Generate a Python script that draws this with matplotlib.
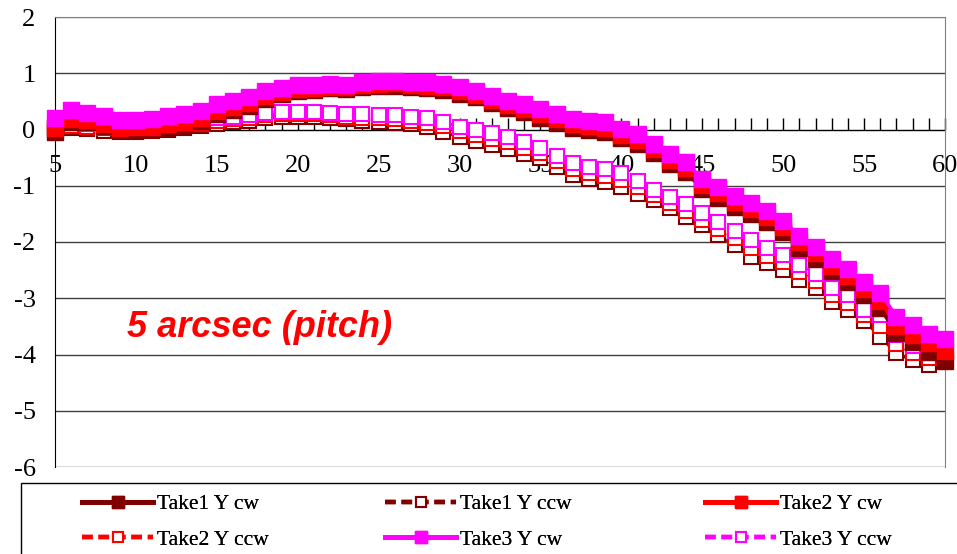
import numpy as np
import matplotlib
matplotlib.use("Agg")
import matplotlib.pyplot as plt
from matplotlib.lines import Line2D
from matplotlib.patches import Rectangle

plt.rcParams['axes.unicode_minus'] = False

# 数据：估计值
x_cw = list(range(5, 61))
x_ccw = list(range(5, 60))

take3_cw = [0.20, 0.35, 0.30, 0.24, 0.17, 0.17, 0.18, 0.24, 0.27, 0.33,
            0.45, 0.51, 0.58, 0.69, 0.74, 0.79, 0.80, 0.81, 0.80, 0.84,
            0.86, 0.87, 0.85, 0.84, 0.81, 0.75, 0.69, 0.60, 0.51, 0.45,
            0.36, 0.28, 0.19, 0.16, 0.13, 0.01, -0.08, -0.25, -0.44, -0.58,
            -0.88, -1.03, -1.18, -1.30, -1.44, -1.62, -1.89, -2.08, -2.30, -2.48,
            -2.71, -2.90, -3.33, -3.48, -3.63, -3.73]
take2_cw = [0.02, 0.18, 0.17, 0.10, 0.03, 0.04, 0.05, 0.09, 0.13, 0.20,
            0.33, 0.40, 0.48, 0.60, 0.67, 0.72, 0.74, 0.76, 0.75, 0.79,
            0.81, 0.82, 0.79, 0.78, 0.75, 0.69, 0.62, 0.53, 0.44, 0.37,
            0.27, 0.19, 0.10, 0.06, 0.02, -0.09, -0.18, -0.35, -0.54, -0.68,
            -0.98, -1.13, -1.28, -1.41, -1.55, -1.73, -2.00, -2.20, -2.42, -2.61,
            -2.83, -3.05, -3.50, -3.65, -3.80, -3.94]
take1_cw = [-0.04, 0.13, 0.14, 0.06, 0.00, 0.00, 0.02, 0.05, 0.08, 0.15,
            0.28, 0.35, 0.42, 0.54, 0.63, 0.68, 0.71, 0.73, 0.72, 0.76,
            0.78, 0.78, 0.75, 0.74, 0.70, 0.64, 0.57, 0.48, 0.38, 0.31,
            0.21, 0.12, 0.03, -0.01, -0.05, -0.15, -0.25, -0.42, -0.61, -0.76,
            -1.06, -1.22, -1.37, -1.50, -1.64, -1.82, -2.10, -2.30, -2.52, -2.71,
            -2.94, -3.18, -3.62, -3.78, -3.95, -4.12]

take3_ccw = [0.10, 0.12, 0.10, 0.06, 0.04, 0.03, 0.05, 0.08, 0.11, 0.14,
             0.20, 0.23, 0.26, 0.30, 0.32, 0.32, 0.32, 0.30, 0.28, 0.27,
             0.26, 0.25, 0.23, 0.20, 0.13, 0.05, 0.00, -0.06, -0.13, -0.22,
             -0.33, -0.47, -0.60, -0.66, -0.70, -0.77, -0.92, -1.07, -1.20, -1.33,
             -1.49, -1.64, -1.80, -1.97, -2.11, -2.23, -2.41, -2.56, -2.82, -2.94,
             -3.21, -3.30, -3.65, -3.84, -3.93]
take2_ccw = [0.05, 0.07, 0.05, 0.02, 0.00, 0.00, 0.02, 0.04, 0.07, 0.10,
             0.15, 0.18, 0.21, 0.25, 0.27, 0.27, 0.27, 0.25, 0.23, 0.21,
             0.20, 0.18, 0.16, 0.12, 0.06, -0.03, -0.09, -0.16, -0.23, -0.32,
             -0.42, -0.56, -0.70, -0.77, -0.82, -0.89, -1.03, -1.16, -1.30, -1.44,
             -1.60, -1.76, -1.92, -2.10, -2.24, -2.36, -2.54, -2.69, -2.94, -3.08,
             -3.30, -3.50, -3.82, -3.97, -4.06]
take1_ccw = [0.00, 0.02, 0.01, -0.02, -0.04, -0.04, -0.02, 0.00, 0.03, 0.06,
             0.10, 0.13, 0.16, 0.20, 0.22, 0.23, 0.22, 0.20, 0.18, 0.16,
             0.14, 0.12, 0.09, 0.04, -0.04, -0.13, -0.20, -0.27, -0.35, -0.43,
             -0.51, -0.66, -0.81, -0.88, -0.94, -1.02, -1.14, -1.25, -1.40, -1.55,
             -1.70, -1.88, -2.05, -2.26, -2.38, -2.50, -2.68, -2.82, -3.06, -3.21,
             -3.40, -3.68, -3.98, -4.10, -4.19]

labels = ['Take1 Y cw', 'Take1 Y ccw', 'Take2 Y cw',
          'Take2 Y ccw', 'Take3 Y cw', 'Take3 Y ccw']
colors = ['#800000', '#800000', '#FF0000', '#FF0000', '#FF00FF', '#FF00FF']

serif = 'Liberation Serif'

fig = plt.figure(figsize=(9.57, 5.54), dpi=100)
ax = fig.add_axes([55 / 957, 1 - 467 / 554, 890 / 957, 450 / 554])

series = [(x_cw, take1_cw), (x_ccw, take1_ccw), (x_cw, take2_cw),
          (x_ccw, take2_ccw), (x_cw, take3_cw), (x_ccw, take3_ccw)]

handles = []
for i, ((xs, ys), lab, c) in enumerate(zip(series, labels, colors)):
    if i % 2 == 0:
        # cw：实线 + 实心方块，画在上层
        ax.plot(xs, ys, '-', color=c, lw=2.5, marker='s', ms=11,
                mfc=c, mec=c, zorder=10 + i, clip_on=False)
        h = Line2D([], [], color=c, lw=3.5, marker='s', ms=8, mfc=c, mec=c)
    else:
        # ccw：虚线 + 空心方块
        ax.plot(xs, ys, color=c, lw=2.2, ls=(0, (2.0, 1.5)), marker='s', ms=10,
                mfc='white', mec=c, mew=1.5, zorder=3 + i, clip_on=False)
        h = Line2D([], [], color=c, lw=3.2, ls=(0, (2.4, 1.3)), marker='s', ms=7,
                   mfc='white', mec=c, mew=1.5)
    handles.append(h)

ax.set_xlim(5, 60)
ax.set_ylim(-6, 2)

# 水平网格线
for yv in range(-6, 3):
    ax.axhline(yv, color='#404040' if yv != 2 else '#808080', lw=1.0, zorder=1)

for s in ['top', 'right']:
    ax.spines[s].set_color('#808080')
ax.spines['left'].set_color('black')
ax.spines['bottom'].set_position(('data', 0))
ax.spines['bottom'].set_color('black')
ax.spines['bottom'].set_zorder(2)

ax.set_xticks(range(5, 61, 5))
ax.set_xticks(range(5, 61), minor=True)
ax.tick_params(axis='x', which='both', direction='in', length=9, width=1,
               color='black', pad=18, labelsize=19)
ax.set_yticks(range(-6, 3))
ax.set_yticklabels([str(v) for v in range(-6, 3)])
ax.tick_params(axis='y', length=0, pad=14, labelsize=19)
for t in ax.get_xticklabels() + ax.get_yticklabels():
    t.set_fontfamily(serif)

ax.text(127 / 957, 1 - 337 / 554, '5 arcsec (pitch)', transform=fig.transFigure,
        color='#FF0000', fontsize=26, fontweight='bold', fontstyle='italic',
        family='Liberation Sans', ha='left', va='baseline')

# 图例外框
fig.patches.append(Rectangle((21 / 957, -0.1), 1.2, 0.1 + (554 - 483) / 554,
                             transform=fig.transFigure, fill=False,
                             ec='black', lw=1.0))

# 图例：三列分别放置，每列两行
col_x = [82, 385, 705]
col_items = [[0, 3], [1, 4], [2, 5]]
for cx, items in zip(col_x, col_items):
    leg = fig.legend([handles[k] for k in items], [labels[k] for k in items],
                     ncol=1, loc='upper left',
                     bbox_to_anchor=(cx / 957, 1 - 494 / 554), frameon=False,
                     borderpad=0, borderaxespad=0, handlelength=3.3,
                     handletextpad=0.2, labelspacing=0.72,
                     prop={'family': serif, 'size': 15.5})
    fig.add_artist(leg)

fig.savefig('out.png', dpi=100)
